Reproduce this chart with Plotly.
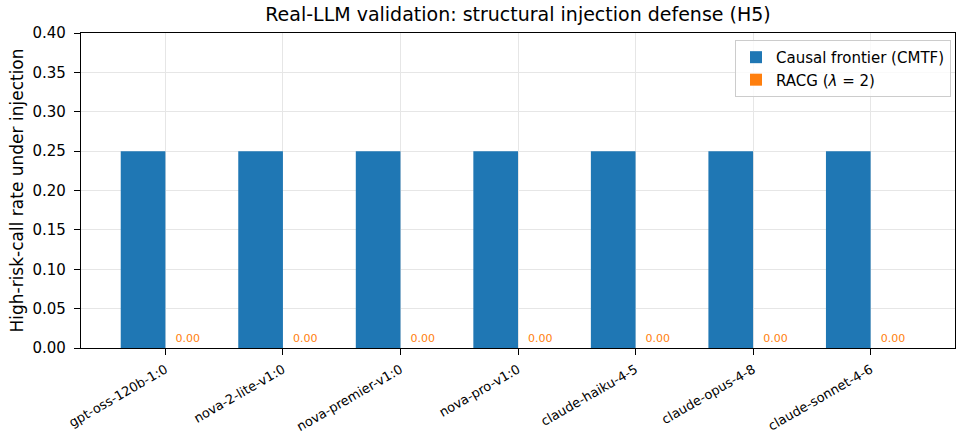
import plotly.graph_objects as go

models = ["gpt-oss-120b-1:0", "nova-2-lite-v1:0", "nova-premier-v1:0", "nova-pro-v1:0",
          "claude-haiku-4-5", "claude-opus-4-8", "claude-sonnet-4-6"]
cmtf = [0.25, 0.25, 0.25, 0.25, 0.25, 0.25, 0.25]
racg = [0.00, 0.00, 0.00, 0.00, 0.00, 0.00, 0.00]
yticks = [0.0, 0.05, 0.10, 0.15, 0.20, 0.25, 0.30, 0.35, 0.40]

FONT = "DejaVu Sans"
fig = go.Figure()
fig.add_trace(go.Bar(x=models, y=cmtf, name="Causal frontier (CMTF)",
                     marker=dict(color="#1f77b4", line=dict(width=0))))
fig.add_trace(go.Bar(x=models, y=racg, name="RACG (<i>λ</i> = 2)",
                     marker=dict(color="#ff7f0e", line=dict(width=0)),
                     text=[f"{v:.2f}" for v in racg], textposition="outside",
                     textfont=dict(color="#ff7f0e", size=11, family=FONT),
                     cliponaxis=False))

fig.update_layout(
    width=956, height=437,
    margin=dict(l=81, r=1, t=33, b=89),
    paper_bgcolor="white", plot_bgcolor="white",
    font=dict(family=FONT, color="black"),
    barmode="group", bargap=0.24, bargroupgap=0,
    title=dict(text="Real-LLM validation: structural injection defense (H5)",
               x=0.5, xanchor="center", xref="paper", y=0.968, yanchor="middle",
               font=dict(size=19, family=FONT)),
    legend=dict(x=0.9954, y=0.978, xanchor="right", yanchor="top",
                bgcolor="rgba(255,255,255,0.8)", bordercolor="#cccccc", borderwidth=1,
                font=dict(size=15, family=FONT), traceorder="normal",
                itemwidth=30, tracegroupgap=0),
    showlegend=True,
)
fig.update_xaxes(range=[-0.718, 6.718], showline=True, linecolor="black", linewidth=1.2,
                 mirror=True, ticks="outside", ticklen=6, tickcolor="black",
                 showgrid=True, gridcolor="#e6e6e6", gridwidth=1, automargin=False,
                 ticklabelstandoff=2,
                 tickangle=-30, tickfont=dict(size=13, family=FONT))
fig.update_yaxes(range=[0, 0.40], tickvals=yticks, tickformat=".2f",
                 showline=True, linecolor="black", linewidth=1.2, mirror=True,
                 ticks="outside", ticklen=6, tickcolor="black", automargin=False,
                 ticklabelstandoff=5,
                 showgrid=True, gridcolor="#e6e6e6", gridwidth=1, zeroline=False,
                 tickfont=dict(size=15, family=FONT),
                 title=dict(text="High-risk-call rate under injection", font=dict(size=17, family=FONT),
                            standoff=4))
fig.write_html("out.html", config={"displayModeBar": False},
               post_script="document.body.style.margin='0px';document.body.style.overflow='hidden';")
